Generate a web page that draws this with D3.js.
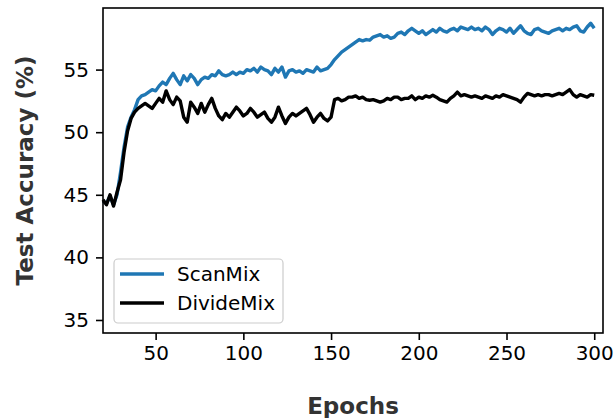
<!DOCTYPE html>
<html lang="en">
<head>
  <meta charset="UTF-8">
  <script src="https://d3js.org/d3.v7.min.js"></script>
  <title>Test Accuracy</title>
  <style>
    body { margin: 0; background: #fff; }
    svg text { font-family: "DejaVu Sans", sans-serif; }
  </style>
</head>
<body>
  <div class="chart"></div>
  <script>
    const epochs = [20,22,24,26,28,30,32,34,36,38,40,42,44,46,48,50,52,54,56,58,60,62,64,66,68,70,72,74,76,78,
      80,82,84,86,88,90,92,94,96,98,100,102,104,106,108,110,112,114,116,118,120,122,124,126,128,130,132,134,136,138,
      140,142,144,146,148,150,152,154,156,158,160,162,164,166,168,170,172,174,176,178,180,182,184,186,188,190,192,194,196,198,
      200,202,204,206,208,210,212,214,216,218,220,222,224,226,228,230,232,234,236,238,240,242,244,246,248,250,252,254,256,258,
      260,262,264,266,268,270,272,274,276,278,280,282,284,286,288,290,292,294,296,298,300];

    const scanMix = [44.5,44.3,44.9,44.2,45.0,46.8,48.8,50.4,51.2,51.8,52.6,52.9,53.0,53.2,53.4,53.3,53.7,54.0,53.8,54.3,
      54.7,54.2,53.8,54.5,54.1,54.6,54.3,53.8,54.2,54.4,54.3,54.6,54.5,54.9,54.6,54.5,54.6,54.8,54.6,54.8,
      54.7,55.0,54.9,55.1,54.8,55.2,55.0,54.9,54.6,55.1,54.8,55.2,54.4,54.9,55.0,54.8,54.9,54.7,55.0,54.9,
      54.8,55.2,54.9,55.0,55.1,55.4,55.8,56.1,56.4,56.6,56.8,57.0,57.2,57.4,57.3,57.4,57.35,57.6,57.7,57.8,
      57.6,57.7,57.5,57.6,57.9,58.0,57.8,58.1,58.3,58.1,57.9,58.1,57.8,58.0,58.2,58.0,58.3,58.1,58.0,58.2,
      58.3,58.1,58.4,58.3,58.2,58.4,58.2,58.3,58.1,58.4,58.2,57.8,58.1,58.3,58.2,58.0,58.3,57.9,58.2,58.5,
      58.1,57.9,57.8,58.2,58.3,58.1,58.0,57.9,58.1,58.2,58.3,58.1,58.3,58.2,58.4,58.5,58.1,58.0,58.4,58.7,58.3];

    const divideMix = [44.6,44.2,45.0,44.1,45.2,46.2,48.4,50.1,51.1,51.6,51.9,52.1,52.3,52.1,51.9,52.3,52.7,52.4,53.3,52.6,
      52.2,52.8,52.5,51.2,50.8,52.4,52.0,51.5,52.3,51.6,52.2,52.7,51.9,51.3,51.0,51.5,51.2,51.6,52.0,51.7,
      51.3,51.5,51.9,51.6,51.2,51.4,51.6,51.1,50.8,51.2,52.0,51.3,50.7,51.2,51.5,51.3,51.5,51.7,51.9,51.4,
      50.8,51.2,51.5,51.1,50.9,51.2,52.6,52.7,52.5,52.6,52.8,52.8,52.9,52.7,52.8,52.6,52.55,52.6,52.5,52.4,
      52.5,52.7,52.6,52.8,52.8,52.6,52.7,52.7,52.9,52.6,52.8,52.7,52.9,52.8,52.95,52.8,52.6,52.5,52.4,52.7,
      52.9,53.2,52.9,53.0,52.9,52.8,52.9,52.8,52.7,52.9,52.8,52.7,52.9,52.8,53.0,52.9,52.8,52.7,52.6,52.4,
      52.8,53.1,53.0,52.9,53.0,52.9,53.0,53.0,52.9,53.0,53.1,53.0,53.2,53.4,53.0,52.8,53.0,52.9,52.8,53.0,52.95];

    const xTicks = [50, 100, 150, 200, 250, 300];
    const yTicks = [35, 40, 45, 50, 55];

    const width = 616, height = 418;
    const margin = {top: 8, right: 13, bottom: 85, left: 103};

    const svg = d3.select('.chart').append('svg')
      .attr('width', width).attr('height', height);

    const x = d3.scaleLinear().domain([20, 305]).range([margin.left, width - margin.right]);
    const y = d3.scaleLinear().domain([33.96, 59.92]).range([height - margin.bottom, margin.top]);

    const xAxis = svg.append('g')
      .attr('transform', `translate(0,${height - margin.bottom})`)
      .call(d3.axisBottom(x).tickValues(xTicks).tickSize(7).tickPadding(6));
    const yAxis = svg.append('g')
      .attr('transform', `translate(${margin.left},0)`)
      .call(d3.axisLeft(y).tickValues(yTicks).tickSize(7).tickPadding(7));

    [xAxis, yAxis].forEach(g => {
      g.select('.domain').remove();
      g.selectAll('.tick line').attr('stroke', '#000').attr('stroke-width', 1.6);
      g.selectAll('.tick text').attr('font-size', 20).attr('fill', '#000')
        .style('font-family', '"DejaVu Sans", sans-serif');
    });

    const line = d3.line().x((d, i) => x(epochs[i])).y(d => y(d));

    svg.append('path').datum(scanMix)
      .attr('d', line).attr('fill', 'none')
      .attr('stroke', '#1f77b4').attr('stroke-width', 3.4).attr('stroke-linejoin', 'round');
    svg.append('path').datum(divideMix)
      .attr('d', line).attr('fill', 'none')
      .attr('stroke', '#000').attr('stroke-width', 3.4).attr('stroke-linejoin', 'round');

    // frame
    svg.append('rect')
      .attr('x', margin.left).attr('y', margin.top)
      .attr('width', width - margin.left - margin.right)
      .attr('height', height - margin.top - margin.bottom)
      .attr('fill', 'none').attr('stroke', '#000').attr('stroke-width', 1.6);

    // axis labels
    svg.append('text')
      .attr('x', (margin.left + width - margin.right) / 2).attr('y', 414)
      .attr('text-anchor', 'middle').attr('font-size', 23).attr('font-weight', 'bold')
      .attr('fill', '#333').text('Epochs');
    svg.append('text')
      .attr('transform', `translate(33,${(margin.top + height - margin.bottom) / 2}) rotate(-90)`)
      .attr('text-anchor', 'middle').attr('font-size', 23).attr('font-weight', 'bold')
      .attr('fill', '#333').text('Test Accuracy (%)');

    // legend
    const legend = svg.append('g');
    legend.append('rect')
      .attr('x', 114).attr('y', 259).attr('width', 169).attr('height', 64).attr('rx', 4)
      .attr('fill', '#fff').attr('fill-opacity', 0.8).attr('stroke', '#ccc').attr('stroke-width', 1.2);
    const entries = [{name: 'ScanMix', color: '#1f77b4'}, {name: 'DivideMix', color: '#000'}];
    entries.forEach((d, i) => {
      const ly = 274 + i * 29;
      legend.append('line').attr('x1', 120).attr('x2', 164).attr('y1', ly).attr('y2', ly)
        .attr('stroke', d.color).attr('stroke-width', 3.4);
      legend.append('text').attr('x', 177).attr('y', ly + 7).attr('font-size', 20)
        .attr('fill', '#000').text(d.name);
    });
  </script>
</body>
</html>
